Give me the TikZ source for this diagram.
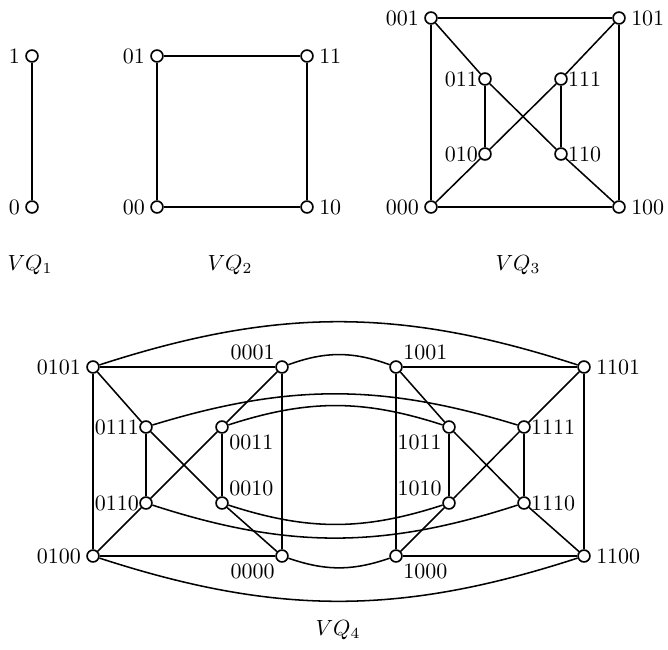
\documentclass[tikz,border=0pt]{standalone}
\usepackage{amsmath}
\usepackage{tikz}

\begin{document}
\begin{tikzpicture}[x=0.016cm, y=-0.016cm,
    vtx/.style={circle, draw, fill=white, line width=0.75pt, inner sep=0pt, minimum size=0.19cm},
    edge/.style={line width=0.7pt},
    every label/.style={inner sep=2.3pt}]
\useasboundingbox (0,0) rectangle (668,649);

% VQ_1
\node[vtx, label=left:1] (a1) at (32,56) {};
\node[vtx, label=left:0] (a0) at (32,207) {};
\draw[edge] (a1) -- (a0);

% VQ_2
\node[vtx, label=left:01] (b01) at (157,56) {};
\node[vtx, label=right:11] (b11) at (307,56) {};
\node[vtx, label=left:00] (b00) at (157,207) {};
\node[vtx, label=right:10] (b10) at (307,207) {};
\draw[edge] (b01) -- (b11) -- (b10) -- (b00) -- (b01);

% VQ_3
\node[vtx, label=left:001] (c001) at (431,18) {};
\node[vtx, label=right:101] (c101) at (619,18) {};
\node[vtx, label={[inner sep=0pt]left:011}] (c011) at (485,79) {};
\node[vtx, label={[inner sep=0pt]right:111}] (c111) at (561,79) {};
\node[vtx, label={[inner sep=0pt]left:010}] (c010) at (485,154) {};
\node[vtx, label={[inner sep=0pt]right:110}] (c110) at (561,154) {};
\node[vtx, label=left:000] (c000) at (431,207) {};
\node[vtx, label=right:100] (c100) at (619,207) {};
\draw[edge] (c001) -- (c101) -- (c100) -- (c000) -- (c001);
\draw[edge] (c001) -- (c011) -- (c110) -- (c100);
\draw[edge] (c101) -- (c111) -- (c010) -- (c000);
\draw[edge] (c011) -- (c010);
\draw[edge] (c111) -- (c110);

% Captions
\node (t1) at (30,265) {$VQ_1$};
\node (t2) at (230,265) {$VQ_2$};
\node (t3) at (518,265) {$VQ_3$};

% VQ_4, left half
\node[vtx, label=left:0101] (d0101) at (93,367) {};
\node[vtx, label={[inner sep=1pt]above left:0001}] (d0001) at (282,367) {};
\node[vtx, label={[inner sep=0pt]left:0111}] (d0111) at (146,427) {};
\node[vtx, label={[inner sep=1pt]below right:0011}] (d0011) at (222,427) {};
\node[vtx, label={[inner sep=0pt]left:0110}] (d0110) at (146,503) {};
\node[vtx, label={[inner sep=1pt]above right:0010}] (d0010) at (222,503) {};
\node[vtx, label=left:0100] (d0100) at (93,556) {};
\node[vtx, label={[inner sep=1pt]below left:0000}] (d0000) at (282,556) {};

% VQ_4, right half
\node[vtx, label={[inner sep=1pt]above right:1001}] (d1001) at (396,367) {};
\node[vtx, label=right:1101] (d1101) at (584,367) {};
\node[vtx, label={[inner sep=1pt]below left:1011}] (d1011) at (449,427) {};
\node[vtx, label={[inner sep=0pt]right:1111}] (d1111) at (524,427) {};
\node[vtx, label={[inner sep=1pt]above left:1010}] (d1010) at (449,503) {};
\node[vtx, label={[inner sep=0pt]right:1110}] (d1110) at (524,503) {};
\node[vtx, label={[inner sep=1pt]below right:1000}] (d1000) at (396,556) {};
\node[vtx, label=right:1100] (d1100) at (584,556) {};

\draw[edge] (d0101) -- (d0001) -- (d0000) -- (d0100) -- (d0101);
\draw[edge] (d0101) -- (d0111) -- (d0010) -- (d0000);
\draw[edge] (d0001) -- (d0011) -- (d0110) -- (d0100);
\draw[edge] (d0111) -- (d0110);
\draw[edge] (d0011) -- (d0010);

\draw[edge] (d1001) -- (d1101) -- (d1100) -- (d1000) -- (d1001);
\draw[edge] (d1001) -- (d1011) -- (d1110) -- (d1100);
\draw[edge] (d1101) -- (d1111) -- (d1010) -- (d1000);
\draw[edge] (d1011) -- (d1010);
\draw[edge] (d1111) -- (d1110);

% Links between the halves
\draw[edge] (d0101) to[bend left=18] (d1101);
\draw[edge] (d0001) to[bend left=20] (d1001);
\draw[edge] (d0111) to[bend left=17] (d1111);
\draw[edge] (d0011) to[bend left=18] (d1011);
\draw[edge] (d0010) to[bend right=18] (d1010);
\draw[edge] (d0110) to[bend right=18] (d1110);
\draw[edge] (d0000) to[bend right=19] (d1000);
\draw[edge] (d0100) to[bend right=18] (d1100);

\node (t4) at (338,630) {$VQ_4$};
\end{tikzpicture}
\end{document}
